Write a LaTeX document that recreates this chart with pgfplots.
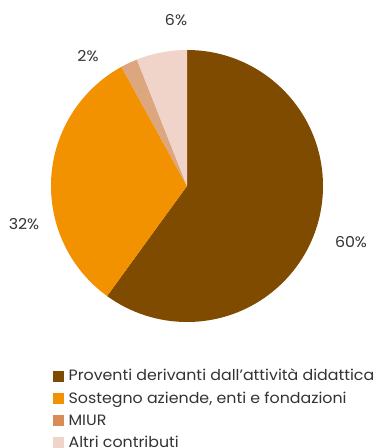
\documentclass[border=0pt]{standalone}
\usepackage{fontspec}
\setmainfont{Poppins}[FakeStretch=1.055]
\usepackage{pgfplots}
\pgfplotsset{compat=1.18}
\definecolor{cBrown}{HTML}{7F4B00}
\definecolor{cOrange}{HTML}{F39200}
\definecolor{cMiur}{HTML}{DCA77E}
\definecolor{cMiurL}{HTML}{D98C58}
\definecolor{cAltri}{HTML}{F0D3C9}
\definecolor{cText}{HTML}{333333}
% #1 cumulative start (%), #2 value (%), #3 colour
\newcommand\slice[3]{%
  \fill[#3] (axis cs:187,262) -- ++({90-3.6*(#1)}:136pt)
    arc[start angle={90-3.6*(#1)}, end angle={90-3.6*((#1)+(#2))}, radius=136pt] -- cycle;}
\begin{document}
\begin{tikzpicture}
\begin{axis}[
  scale only axis, width=374pt, height=448pt,
  xmin=0, xmax=374, ymin=0, ymax=448,
  hide axis, clip=false,
  legend cell align=left,
  legend style={draw=none, fill=none, at={(axis cs:53,80)}, anchor=north west,
    font=\fontsize{15}{17}\selectfont\color{cText}, row sep=7.6pt, inner sep=0pt,
    nodes={inner sep=1pt}},
  legend image code/.code={\fill[#1] (0pt,-5pt) rectangle (10pt,5pt); \path (14pt,0pt);},
]
\slice{0}{60}{cBrown}
\slice{60}{32}{cOrange}
\slice{92}{2}{cMiur}
\slice{94}{6}{cAltri}
\addlegendimage{cBrown}\addlegendentry{Proventi derivanti dall’attività didattica}
\addlegendimage{cOrange}\addlegendentry{Sostegno aziende, enti e fondazioni}
\addlegendimage{cMiurL}\addlegendentry{MIUR}
\addlegendimage{cAltri}\addlegendentry{Altri contributi}
\node[font=\fontsize{15}{17}\selectfont, text=cText] at (axis cs:351,206) {60\%};
\node[font=\fontsize{15}{17}\selectfont, text=cText] at (axis cs:24,224) {32\%};
\node[font=\fontsize{15}{17}\selectfont, text=cText] at (axis cs:88,392) {2\%};
\node[font=\fontsize{15}{17}\selectfont, text=cText] at (axis cs:176,428) {6\%};
\end{axis}
\pgfresetboundingbox
\path (0,0) rectangle (374pt,448pt);
\end{tikzpicture}
\end{document}
